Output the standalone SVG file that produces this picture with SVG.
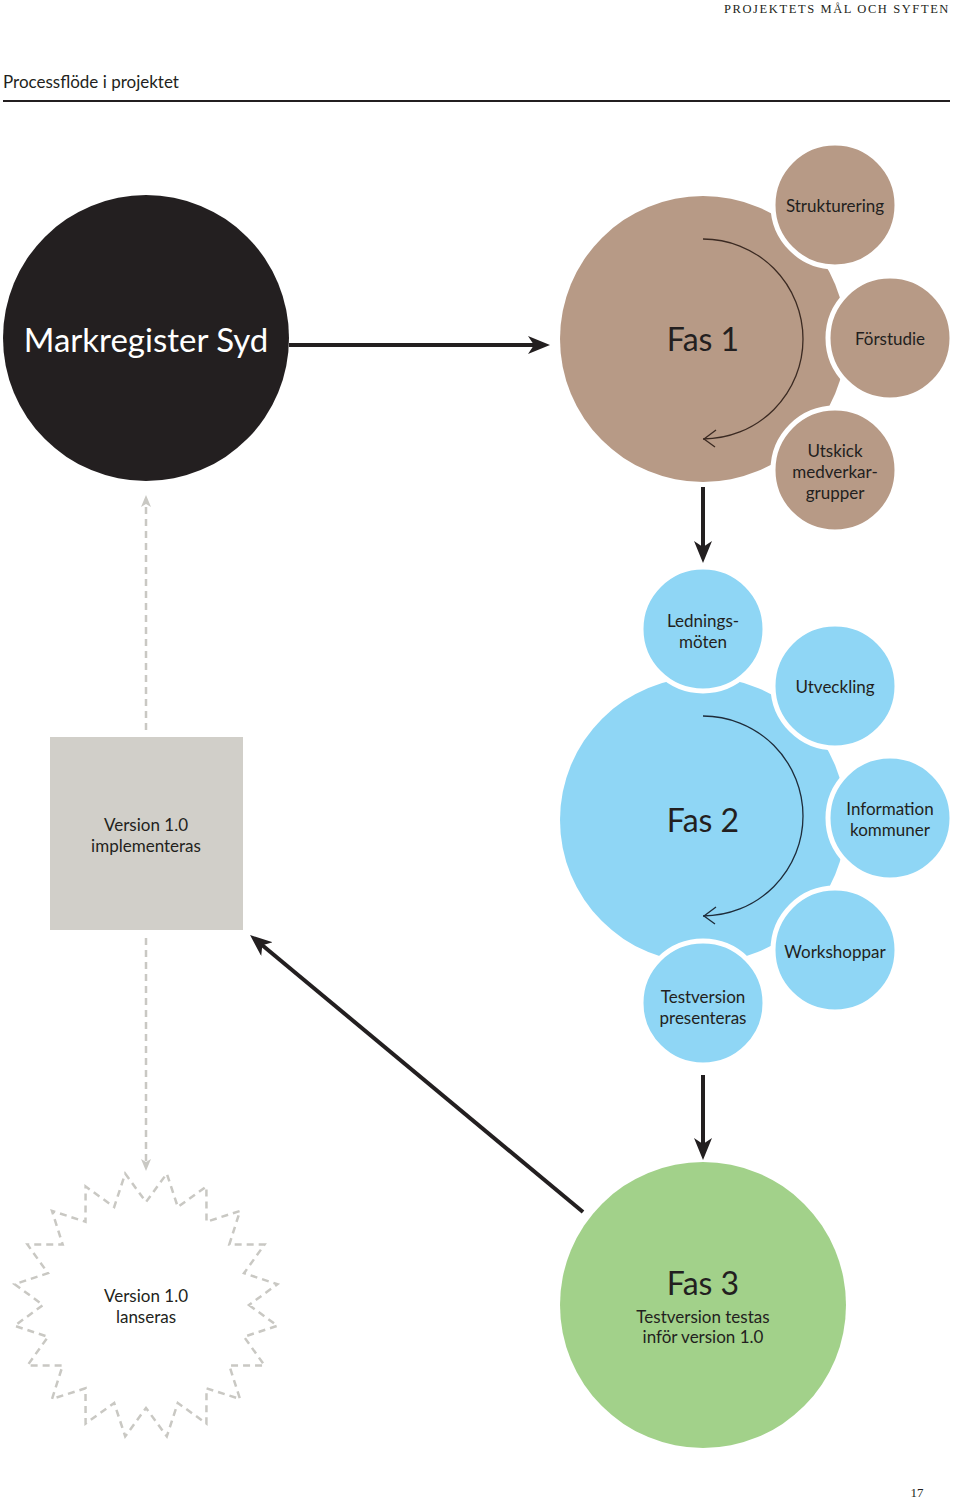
<svg xmlns="http://www.w3.org/2000/svg" width="960" height="1500" viewBox="0 0 960 1500">
<defs>
<style>
.t{font-family:Lato,"Noto Sans","Liberation Sans",sans-serif;fill:#231f20;text-anchor:middle}
.sm{font-size:17px}
.big{font-size:32px}
.ring{stroke:#ffffff;stroke-width:5}
.brown{fill:#b79a86}
.blue{fill:#8fd6f5}
.green{fill:#a2d18a}
.conn{stroke:#231f20;stroke-width:4;fill:none}
.dash{stroke:#c9c8c3;stroke-width:2.5;stroke-dasharray:7 5;fill:none}
.loop{fill:none;stroke-width:1.3}
</style>
<marker id="ah" markerUnits="userSpaceOnUse" markerWidth="24" markerHeight="20" refX="8" refY="9" orient="auto">
<path d="M0,0 L22,9 L0,18 L6,9 Z" fill="#231f20"/>
</marker>
<marker id="gh" markerUnits="userSpaceOnUse" markerWidth="14" markerHeight="12" refX="4" refY="5" orient="auto">
<path d="M0,0 L12,5 L0,10 L3,5 Z" fill="#c9c8c3"/>
</marker>
</defs>
<rect width="960" height="1500" fill="#ffffff"/>

<g id="header">
<text x="950" y="13" font-family="'Liberation Serif',serif" font-size="12.5" letter-spacing="1.6" text-anchor="end" fill="#231f20">PROJEKTETS MÅL OCH SYFTEN</text>
<text x="3" y="88" font-family="Lato,'Noto Sans','Liberation Sans',sans-serif" font-size="17" fill="#231f20">Processflöde i projektet</text>
<line x1="3" y1="101" x2="950" y2="101" stroke="#231f20" stroke-width="2"/>
</g>

<g id="connectors">
<line class="conn" x1="289" y1="345" x2="536" y2="345" marker-end="url(#ah)"/>
<line class="conn" x1="703" y1="487" x2="703" y2="549" marker-end="url(#ah)"/>
<line class="conn" x1="703" y1="1075" x2="703" y2="1146" marker-end="url(#ah)"/>
<line class="conn" x1="583" y1="1212" x2="260.8" y2="944" marker-end="url(#ah)"/>
<line class="dash" x1="146" y1="730" x2="146" y2="503" marker-end="url(#gh)"/>
<line class="dash" x1="146" y1="938" x2="146" y2="1163" marker-end="url(#gh)"/>
</g>

<g id="markregister">
<circle cx="146" cy="338" r="143" fill="#231f20"/>
<text class="t" x="146" y="352" font-size="33" style="fill:#ffffff">Markregister Syd</text>
</g>

<g id="fas1">
<circle class="brown" cx="703" cy="339" r="143"/>
<path class="loop" d="M703,239 A100,100 0 0 1 703,439" stroke="#3b2a22"/>
<path class="loop" d="M716,430 L704,439 L715,447" stroke="#3b2a22"/>
<text class="t big" x="703" y="351">Fas 1</text>
</g>
<g id="strukturering">
<circle class="brown ring" cx="835" cy="205" r="62"/>
<text class="t sm" x="835" y="212">Strukturering</text>
</g>
<g id="forstudie">
<circle class="brown ring" cx="890" cy="338" r="62"/>
<text class="t sm" x="890" y="345">Förstudie</text>
</g>
<g id="utskick">
<circle class="brown ring" cx="835" cy="470" r="62"/>
<text class="t sm" x="835" y="457">Utskick</text>
<text class="t sm" x="835" y="478">medverkar-</text>
<text class="t sm" x="835" y="499">grupper</text>
</g>

<g id="fas2">
<circle class="blue" cx="703" cy="820" r="143"/>
<path class="loop" d="M703,716 A100,100 0 0 1 703,916" stroke="#1e2c3a"/>
<path class="loop" d="M716,907 L704,916 L715,924" stroke="#1e2c3a"/>
<text class="t big" x="703" y="832">Fas 2</text>
</g>
<g id="ledningsmoten">
<circle class="blue ring" cx="703" cy="629" r="62"/>
<text class="t sm" x="703" y="627">Lednings-</text>
<text class="t sm" x="703" y="648">möten</text>
</g>
<g id="utveckling">
<circle class="blue ring" cx="835" cy="686" r="62"/>
<text class="t sm" x="835" y="693">Utveckling</text>
</g>
<g id="information">
<circle class="blue ring" cx="890" cy="818" r="62"/>
<text class="t sm" x="890" y="815">Information</text>
<text class="t sm" x="890" y="836">kommuner</text>
</g>
<g id="workshoppar">
<circle class="blue ring" cx="835" cy="950" r="62"/>
<text class="t sm" x="835" y="958">Workshoppar</text>
</g>
<g id="testversion">
<circle class="blue ring" cx="703" cy="1003" r="62"/>
<text class="t sm" x="703" y="1003">Testversion</text>
<text class="t sm" x="703" y="1024">presenteras</text>
</g>

<g id="fas3">
<circle class="green" cx="703" cy="1305" r="143"/>
<text class="t big" x="703" y="1295">Fas 3</text>
<text class="t sm" x="703" y="1323">Testversion testas</text>
<text class="t sm" x="703" y="1343">inför version 1.0</text>
</g>

<g id="implementeras">
<rect x="50" y="737" width="193" height="193" fill="#d1cfc9"/>
<text class="t sm" x="146" y="831">Version 1.0</text>
<text class="t sm" x="146" y="852">implementeras</text>
</g>

<g id="lanseras">
<polygon class="dash" points="249,1305 277.4,1325.8 244,1336.8 264.5,1365.4 229.3,1365.5 240,1399 206.5,1388.3 206.4,1423.5 177.8,1403 166.8,1436.4 146,1408 125.2,1436.4 114.2,1403 85.6,1423.5 85.5,1388.3 52,1399 62.7,1365.5 27.5,1365.4 48,1336.8 14.6,1325.8 43,1305 14.6,1284.2 48,1273.2 27.5,1244.6 62.7,1244.5 52,1211 85.5,1221.7 85.6,1186.5 114.2,1207 125.2,1173.6 146,1202 166.8,1173.6 177.8,1207 206.4,1186.5 206.5,1221.7 240,1211 229.3,1244.5 264.5,1244.6 244,1273.2 277.4,1284.2"/>
<text class="t sm" x="146" y="1302">Version 1.0</text>
<text class="t sm" x="146" y="1323">lanseras</text>
</g>

<text x="917" y="1497" font-family="'Liberation Serif',serif" font-size="13" text-anchor="middle" fill="#231f20">17</text>
</svg>
